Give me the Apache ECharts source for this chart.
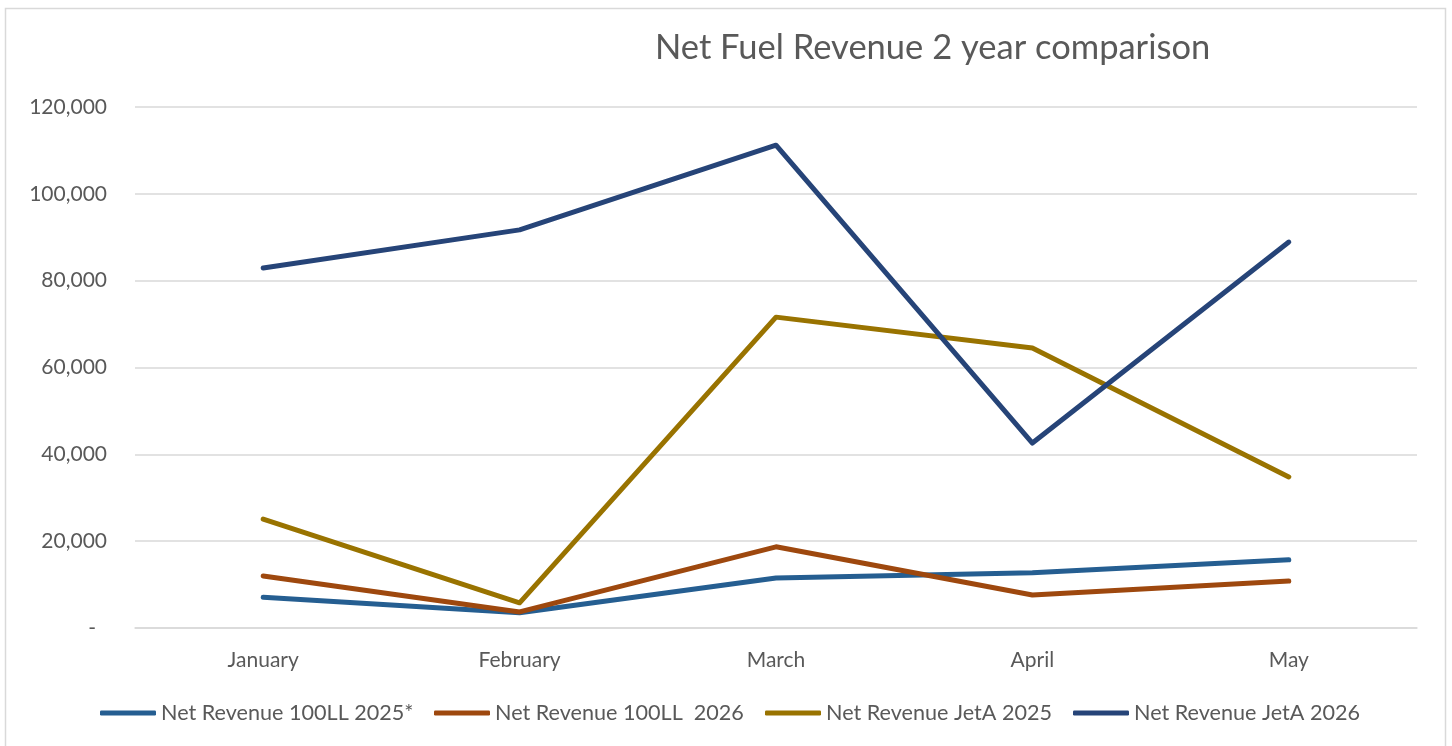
<!DOCTYPE html>
<html><head><meta charset="utf-8">
<script src="https://cdn.jsdelivr.net/npm/echarts@6/dist/echarts.min.js"></script>
<style>html,body{margin:0;padding:0;background:#fff}#c{width:1452px;height:746px}</style>
</head><body><div id="c"></div>
<script>
const categories = ['January', 'February', 'March', 'April', 'May'];
const rev100LL2025 = [7100, 3500, 11500, 12700, 15700];
const rev100LL2026 = [12000, 3700, 18700, 7600, 10800];
const revJetA2025 = [25100, 5800, 71600, 64500, 34800];
const revJetA2026 = [82900, 91700, 111200, 42600, 88900];
const seriesNames = ['Net Revenue 100LL 2025*', 'Net Revenue 100LL  2026', 'Net Revenue JetA 2025', 'Net Revenue JetA 2026'];
const seriesData = [rev100LL2025, rev100LL2026, revJetA2025, revJetA2026];
const colors = ['#255E91', '#9E480E', '#997300', '#264478'];
const yMin = 0, yMax = 120000, yStep = 20000;

const FONT = 'Lato';
const TXT = '#595959';
const chart = echarts.init(document.getElementById('c'), null, {renderer: 'canvas'});
const legendLefts = [100, 434, 765, 1073];
chart.setOption({
  animation: false,
  color: colors,
  title: {
    text: 'Net Fuel Revenue 2 year comparison',
    left: 655, top: 30, padding: 0,
    textStyle: {fontFamily: FONT, fontSize: 34.5, fontWeight: 'normal', color: TXT}
  },
  graphic: [{
    type: 'rect', silent: true,
    shape: {x: 5.5, y: 8.5, width: 1440, height: 760},
    style: {fill: 'none', stroke: '#d9d9d9', lineWidth: 1.5}
  }],
  legend: seriesNames.map((n, i) => ({
    data: [n], left: legendLefts[i], top: 702, padding: 0,
    icon: 'roundRect', itemWidth: 56, itemHeight: 5, itemGap: 0,
    textStyle: {fontFamily: FONT, fontSize: 21.6, color: TXT}
  })),
  grid: {left: 135, right: 35, top: 107, bottom: 118, containLabel: false},
  xAxis: {
    type: 'category', data: categories, boundaryGap: true,
    axisLine: {lineStyle: {color: '#d9d9d9', width: 1.5}},
    axisTick: {show: false},
    axisLabel: {fontFamily: FONT, fontSize: 21, color: TXT, margin: 22}
  },
  yAxis: {
    type: 'value', min: yMin, max: yMax, interval: yStep,
    axisLine: {show: false}, axisTick: {show: false},
    splitLine: {lineStyle: {color: '#d9d9d9', width: 1.5}},
    axisLabel: {
      fontFamily: FONT, fontSize: 21, color: TXT, margin: 28,
      formatter: v => v === 0 ? '{z|-}' : v.toLocaleString('en-US'),
      rich: {z: {fontFamily: FONT, fontSize: 21, color: TXT, padding: [0, 11, 0, 0]}}
    }
  },
  series: seriesNames.map((n, i) => ({
    name: n, type: 'line', data: seriesData[i],
    showSymbol: false, symbol: 'none',
    lineStyle: {width: 5, color: colors[i], cap: 'round', join: 'round'},
    itemStyle: {color: colors[i]}
  }))
});
</script></body></html>
